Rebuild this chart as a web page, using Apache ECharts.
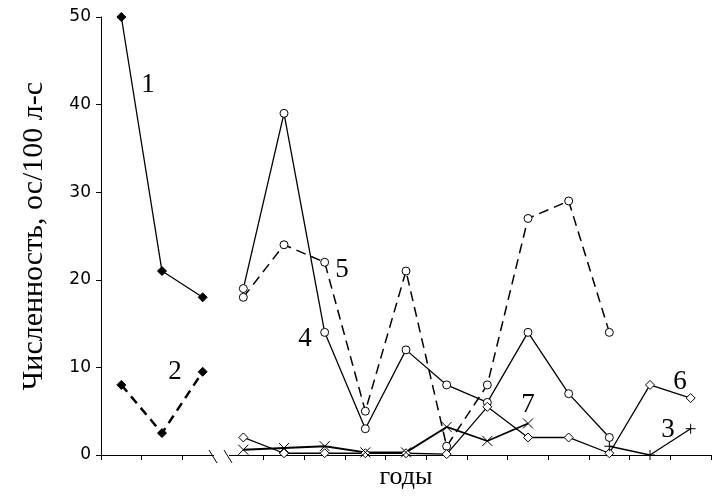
<!DOCTYPE html>
<html><head><meta charset="utf-8">
<script src="https://cdn.jsdelivr.net/npm/echarts@6/dist/echarts.min.js"></script>
<style>html,body{margin:0;padding:0;background:#fff}#c{width:720px;height:498px}</style>
</head><body><div id="c"></div>
<script>
// ---- data ----
const categories = ['1','2','3','4','5','6','7','8','9','10','11','12','13','14','15'];
const yTicks = [0, 10, 20, 30, 40, 50];
const s1 = [50, 21, 18, null, null, null, null, null, null, null, null, null, null, null, null];
const s2 = [8, 2.5, 9.5, null, null, null, null, null, null, null, null, null, null, null, null];
const s4 = [null, null, null, 19, 39, 14, 3, 12, 8, 6, 14, 7, 2, null, null];
const s5 = [null, null, null, 18, 24, 22, 5, 21, 1, 8, 27, 29, 14, null, null];
const s6 = [null, null, null, 2, 0.2, 0.2, 0.2, 0.2, 0.1, 5.5, 2, 2, 0.2, 8, 6.5];
const s7 = [null, null, null, 0.6, 0.8, 1.0, 0.3, 0.3, 3.2, 1.6, 3.6, null, null, null, null];
const s3 = [null, null, null, null, null, null, null, null, null, null, null, null, 1, 0, 3];
const seriesNames = ['1', '2', '3', '4', '5', '6', '7'];

const CROSS = 'path://M0,0L10,10M10,0L0,10';
const PLUS = 'path://M5,0L5,10M0,5L10,5';
const serif = '"Liberation Serif"';

function line(name, data, symbol, size, fill, lineStyle) {
  return {
    name, type: 'line', data, symbol, symbolSize: size, showAllSymbol: true,
    connectNulls: false, animation: false,
    itemStyle: { color: fill, borderColor: '#000', borderWidth: 1 },
    lineStyle: Object.assign({ color: '#000', width: 1.3 }, lineStyle),
    emphasis: { disabled: true }
  };
}

const option = {
  backgroundColor: '#fff',
  animation: false,
  grid: { left: 101, right: 9, top: 17, bottom: 43 },
  xAxis: {
    type: 'category', data: categories, boundaryGap: true,
    name: 'годы', nameLocation: 'middle', nameGap: 9,
    nameTextStyle: { fontFamily: serif, fontSize: 26, color: '#000' },
    axisLine: { lineStyle: { color: '#000', width: 1 } },
    axisTick: { show: true, inside: false, length: 5, lineStyle: { color: '#000' } },
    axisLabel: { show: false },
    splitLine: { show: false }
  },
  yAxis: {
    type: 'value', min: yTicks[0], max: yTicks[yTicks.length - 1], interval: yTicks[1] - yTicks[0],
    name: 'Численность, ос/100 л-с', nameLocation: 'middle', nameGap: 52, nameRotate: 90,
    nameTextStyle: { fontFamily: serif, fontSize: 30, color: '#000' },
    axisLine: { show: true, lineStyle: { color: '#000', width: 1 } },
    axisTick: { show: true, inside: false, length: 5, lineStyle: { color: '#000' } },
    axisLabel: { fontFamily: 'DejaVu Sans', fontSize: 17, color: '#000', margin: 10 },
    splitLine: { show: false }
  },
  series: [
    line(seriesNames[0], s1, 'diamond', 9, '#000', {}),
    line(seriesNames[1], s2, 'diamond', 9, '#000', { type: [9, 6], width: 2.5 }),
    line(seriesNames[3], s4, 'circle', 8, '#fff', {}),
    line(seriesNames[4], s5, 'circle', 8, '#fff', { type: [10, 6], width: 1.5 }),
    line(seriesNames[5], s6, 'diamond', 9, '#fff', {}),
    line(seriesNames[6], s7, CROSS, 10, 'none', { width: 1.8 }),
    line(seriesNames[2], s3, PLUS, 10, 'none', {})
  ]
};

const chart = echarts.init(document.getElementById('c'));
chart.setOption(option);

// axis break and curve labels
const pA = chart.convertToPixel({ xAxisIndex: 0 }, categories[2]);
const pB = chart.convertToPixel({ xAxisIndex: 0 }, categories[3]);
const y0 = chart.convertToPixel({ yAxisIndex: 0 }, 0);
const xb = (pA + pB) / 2;
const lblStyle = (t, x, y) => ({ type: 'text', x, y, z: 50,
  style: { text: t, font: '27px "Liberation Serif"', fill: '#000', align: 'center', verticalAlign: 'middle' } });
chart.setOption({
  graphic: [
    { type: 'rect', z: 100, shape: { x: xb - 9, y: y0 - 2, width: 15, height: 9 }, style: { fill: '#fff' } },
    { type: 'line', z: 101, shape: { x1: xb - 14, y1: y0 - 5, x2: xb - 6, y2: y0 + 8 }, style: { stroke: '#000', lineWidth: 1 } },
    { type: 'line', z: 101, shape: { x1: xb + 1, y1: y0 - 5, x2: xb + 9, y2: y0 + 8 }, style: { stroke: '#000', lineWidth: 1 } },
    lblStyle(seriesNames[0], 148, 85),
    lblStyle(seriesNames[1], 175, 372),
    lblStyle(seriesNames[3], 305, 339),
    lblStyle(seriesNames[4], 342, 270),
    lblStyle(seriesNames[5], 680, 382),
    lblStyle(seriesNames[6], 528, 405),
    lblStyle(seriesNames[2], 668, 430)
  ]
});
</script>
</body></html>
